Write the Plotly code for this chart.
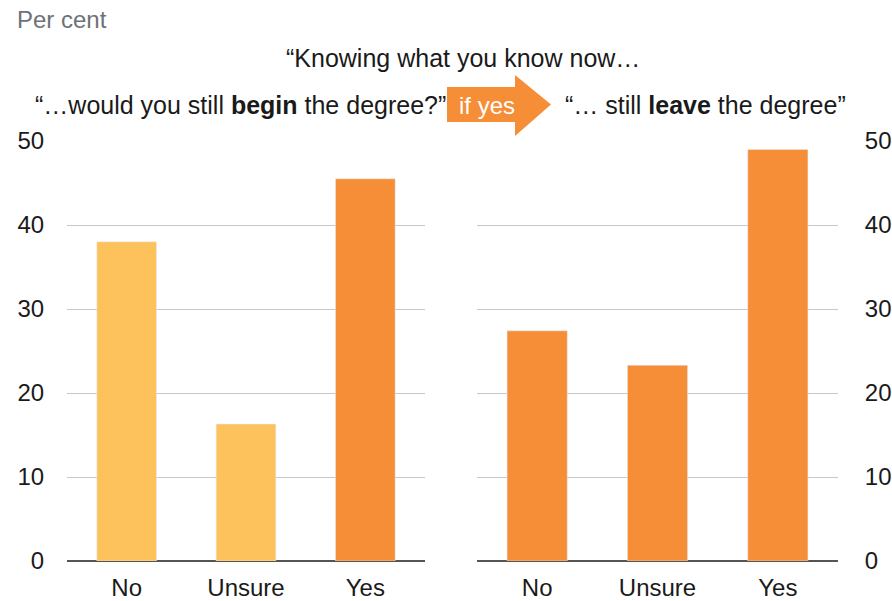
import plotly.graph_objects as go
from plotly.subplots import make_subplots

W, H = 892, 601

categories = ["No", "Unsure", "Yes"]
begin_values = [38.0, 16.3, 45.5]
leave_values = [27.4, 23.3, 49.0]
begin_colors = ["#FDC25B", "#FDC25B", "#F68D37"]
leave_colors = ["#F68D37", "#F68D37", "#F68D37"]
y_ticks = [0, 10, 20, 30, 40, 50]

FONT = "Liberation Sans, Arial, sans-serif"
ORANGE = "#F68D37"
FS = 24


def px(x):
    return x / W


def py(y):
    return 1 - y / H


fig = make_subplots(rows=1, cols=2)

fig.add_trace(go.Bar(x=categories, y=begin_values, marker_color=begin_colors,
                     width=0.5, showlegend=False), row=1, col=1)
fig.add_trace(go.Bar(x=categories, y=leave_values, marker_color=leave_colors,
                     width=0.5, showlegend=False), row=1, col=2)

axis_common = dict(
    tickfont=dict(family=FONT, size=FS, color="#1a1a1a"),
    ticks="outside", tickcolor="rgba(0,0,0,0)", automargin=False,
)
fig.update_xaxes(domain=[px(67), px(425)], row=1, col=1)
fig.update_xaxes(domain=[px(477), px(838)], row=1, col=2)
fig.update_xaxes(showgrid=False, showline=False, ticklen=5, **axis_common)

fig.update_yaxes(range=[0, 50], tickvals=y_ticks, domain=[py(561), py(141)],
                 showgrid=True, gridcolor="#C5C8CC", gridwidth=1,
                 zeroline=True, zerolinecolor="#555555", zerolinewidth=1.5,
                 **axis_common)
fig.update_yaxes(side="left", ticklen=17, row=1, col=1)
fig.update_yaxes(side="right", ticklen=21, row=1, col=2)

# arrow "if yes"
ax0, ax1, ax2 = px(447), px(515), px(551)
ay_top, ay_bot = py(87), py(122)
ah_top, ah_bot, ah_mid = py(75), py(136), py(104.5)
fig.add_shape(
    type="path", xref="paper", yref="paper",
    path=(f"M {ax0} {ay_top} L {ax1} {ay_top} L {ax1} {ah_top} L {ax2} {ah_mid} "
          f"L {ax1} {ah_bot} L {ax1} {ay_bot} L {ax0} {ay_bot} Z"),
    fillcolor=ORANGE, line=dict(width=0), layer="below",
)

texts = [
    ("Per cent", 16, 20, "left", "#6D7278", 24),
    ("\u201cKnowing what you know now\u2026", 463, 58, "center", "#1a1a1a", 25),
    ("\u201c\u2026would you still <b>begin</b> the degree?\u201d", 447, 105, "right", "#1a1a1a", 25),
    ("\u201c\u2026 still <b>leave</b> the degree\u201d", 564, 105, "left", "#1a1a1a", 25),
    ("if yes", 487, 105, "center", "white", 24),
]
for txt, x, y, anchor, color, size in texts:
    fig.add_annotation(text=txt, x=px(x), y=py(y), xref="paper", yref="paper",
                       xanchor=anchor, yanchor="middle", showarrow=False,
                       borderpad=0, font=dict(family=FONT, size=size, color=color))

fig.update_layout(
    width=W, height=H,
    margin=dict(l=0, r=0, t=0, b=0),
    paper_bgcolor="white", plot_bgcolor="white",
    bargap=0.5,
)

fig.write_html("out.html", config={"displayModeBar": False},
               post_script="document.body.style.margin='0px';")
